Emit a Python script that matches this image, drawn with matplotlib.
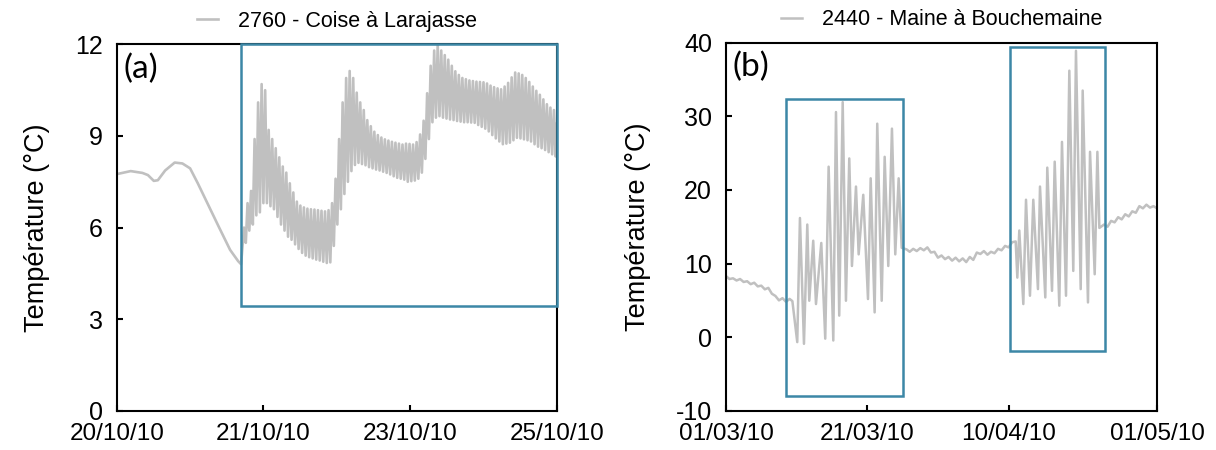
import numpy as np
import matplotlib.pyplot as plt
from matplotlib.patches import Rectangle

plt.rcParams["font.family"] = ["Liberation Sans", "DejaVu Sans"]
plt.rcParams["axes.unicode_minus"] = False

# ---- Panel (a): 2760 - Coise a Larajasse (time in hours) ----
a_smooth_t = [0, 3.8, 7.0, 8.5, 10.1, 11.2, 13.2, 15.8, 17.9, 20.0, 22.1,
              24.7, 27.8, 30.9, 33.1, 33.9]
a_smooth_v = [7.75, 7.85, 7.79, 7.72, 7.53, 7.55, 7.87, 8.13, 8.10, 7.94,
              7.45, 6.80, 6.03, 5.27, 4.90, 4.80]

# daily-cycle highs / lows, one pair per reading interval
a_cycle_start = 34.7
a_cycle_step = 0.96
a_high = [6.0, 6.8, 7.2, 8.9, 10.1, 10.7, 10.5, 9.2, 8.9, 8.6, 8.3, 8.0, 7.8,
          7.45, 7.15, 6.85, 6.72, 6.66, 6.62, 6.6, 6.59, 6.57, 6.55, 6.53,
          6.57, 6.8, 7.6, 8.9, 10.1, 10.9, 11.13, 10.9, 10.42, 10.1, 9.85,
          9.52, 9.32, 9.14, 9.03, 8.95, 8.89, 8.85, 8.81, 8.78, 8.75, 8.72,
          8.75, 8.74, 8.72, 8.8, 9.05, 9.5, 10.4, 11.3, 11.8, 12.0, 11.8,
          11.65, 11.5, 11.3, 11.12, 11.0, 10.9, 10.86, 10.82, 10.8, 10.78,
          10.77, 10.76, 10.72, 10.65, 10.6, 10.56, 10.53, 10.62, 10.74, 10.92,
          11.08, 11.05, 11.0, 10.9, 10.77, 10.62, 10.48, 10.35, 10.2, 10.04,
          9.93, 9.85]
a_low = [5.5, 5.9, 6.1, 6.4, 6.5, 6.8, 6.8, 6.7, 6.6, 6.35, 6.1, 5.9, 5.7,
         5.6, 5.45, 5.3, 5.17, 5.08, 5.03, 4.99, 4.95, 4.92, 4.88, 4.84, 4.86,
         5.4, 6.1, 6.6, 7.1, 7.5, 7.85, 8.05, 8.12, 8.08, 8.04, 7.98, 7.94,
         7.9, 7.87, 7.83, 7.79, 7.74, 7.68, 7.63, 7.6, 7.57, 7.5, 7.52, 7.54,
         7.6, 7.8, 8.25, 8.9, 9.45, 9.6, 9.65, 9.6, 9.57, 9.54, 9.52, 9.49,
         9.47, 9.45, 9.45, 9.44, 9.43, 9.36, 9.3, 9.24, 9.15, 9.03, 8.92,
         8.82, 8.73, 8.75, 8.78, 8.86, 8.94, 8.92, 8.89, 8.86, 8.82, 8.73,
         8.65, 8.6, 8.54, 8.47, 8.4, 8.33]

a_ticks = [0, 40, 80, 120]
a_ticklabels = ["20/10/10", "21/10/10", "23/10/10", "25/10/10"]
a_box = (33.9, 3.44)  # lower-left corner of highlighted window

# ---- Panel (b): 2440 - Maine a Bouchemaine (time in days) ----
b_t = [0, 0.5, 1.0, 1.5, 2.0, 2.5, 3.0, 3.5, 4.0, 4.5, 5.0, 5.5, 6.0, 6.5,
       7.0, 7.5, 8.0, 8.5, 9.0, 9.4,
       10.09, 10.47, 11.04, 11.51, 11.79, 12.35, 12.74, 13.49, 14.05, 14.53,
       15.19, 15.57, 16.03, 16.52, 16.98, 17.45, 17.83, 18.4, 18.78, 19.43,
       20.1, 20.48, 21.04, 21.41, 22.04, 22.46, 22.97, 23.49, 23.96, 24.44,
       24.87, 25.57,
       26.0, 26.5, 27.0, 27.5, 28.0, 28.5, 29.0, 29.5, 30.0, 30.5, 31.0,
       31.5, 32.0, 32.5, 33.0, 33.5, 34.0, 34.5, 35.0, 35.5, 36.0, 36.5,
       37.0, 37.5, 38.0, 38.5, 39.0, 39.5, 40.0, 40.5, 41.0,
       41.23, 41.51, 42.08, 42.46, 43.02, 43.49, 44.15, 44.44, 45.19, 45.47,
       46.14, 46.52, 47.17, 47.55, 48.12, 48.59, 49.15, 49.53, 50.2, 50.48,
       51.23, 51.52, 52.18, 52.56, 52.84,
       53.5, 54.0, 54.5, 55.0, 55.5, 56.0, 56.5, 57.0, 57.5, 58.0, 58.5,
       59.0, 59.5, 60.0, 60.5, 61.0]
b_v = [8.3, 7.9, 8.0, 7.7, 7.9, 7.5, 7.6, 7.2, 7.4, 6.9, 7.0, 6.5, 6.7, 5.9,
       5.6, 5.0, 5.3, 4.8, 5.2, 4.9,
       -0.67, 16.19, -0.9, 15.3, 4.95, 13.1, 4.5, 12.8, -0.2, 23.16,
       -0.45, 30.58, 2.93, 31.93, 4.95, 24.28, 9.67, 20.46, 11.25, 19.34,
       5.18, 21.58, 3.37, 29.0, 4.95, 24.5, 9.67, 28.33, 11.25, 21.58,
       12.14, 11.92,
       11.6, 12.0, 11.7, 12.1, 11.8, 12.2, 11.5, 11.6, 10.8, 11.1, 10.6,
       10.9, 10.4, 10.8, 10.3, 10.7, 10.2, 10.9, 10.5, 11.5, 11.3, 11.7,
       11.2, 11.6, 11.4, 12.0, 11.8, 12.4, 12.2, 12.9, 13.0,
       8.09, 14.49, 4.5, 18.67, 5.63, 18.67, 6.53, 20.46, 5.4, 23.03,
       6.3, 23.84, 4.28, 26.53, 5.63, 36.2, 9.0, 38.9, 6.53, 33.5,
       4.72, 25.18, 8.55, 25.18, 14.84,
       15.3, 15.0, 15.8, 15.6, 16.3, 16.0, 16.7, 16.4, 17.1, 16.9, 17.8,
       17.5, 18.0, 17.6, 17.8, 17.5]

b_ticks = [0, 20, 40, 61]
b_ticklabels = ["01/03/10", "21/03/10", "10/04/10", "01/05/10"]
b_boxes = [(8.5, -7.96, 25.1, 32.4), (40.2, -1.89, 53.6, 39.35)]

line_col = "#c0c0c0"
box_col = "#3c87a6"


def style_axis(ax):
    for s in ax.spines.values():
        s.set_linewidth(1.5)
        s.set_color("black")
    ax.tick_params(direction="in", length=4, width=1.5, labelsize=18)
    ax.tick_params(axis="x", pad=9, labelsize=17.5)
    ax.tick_params(axis="y", pad=10)
    ax.set_ylabel("Température (°C)", fontsize=19.5, labelpad=18)


def build_panel_a():
    k = np.arange(len(a_high))
    t_hi = a_cycle_start + a_cycle_step * k
    t_lo = t_hi + a_cycle_step / 2
    t = np.concatenate([a_smooth_t, np.column_stack([t_hi, t_lo]).ravel(), [120]])
    v = np.concatenate([a_smooth_v, np.column_stack([a_high, a_low]).ravel(), [9.4]])
    return t, v


fig = plt.figure(figsize=(12.16, 4.5), dpi=100)
ax1 = fig.add_axes([0.096, 0.0873, 0.362, 0.814])
ax2 = fig.add_axes([0.597, 0.0871, 0.3545, 0.818])

# Panel (a)
t_a, v_a = build_panel_a()
ax1.plot(t_a, v_a, color=line_col, lw=1.9, label="2760 - Coise à Larajasse")
ax1.set_xlim(0, 120)
ax1.set_ylim(0, 12)
ax1.set_yticks([0, 3, 6, 9, 12])
ax1.set_xticks(a_ticks)
ax1.set_xticklabels(a_ticklabels)
ax1.add_patch(Rectangle(a_box, 120 - a_box[0], 12 - a_box[1], fill=False,
                        ec=box_col, lw=1.8, clip_on=False, zorder=5))
ax1.text(0.015, 0.975, "(a)", transform=ax1.transAxes, fontsize=24,
         va="top", ha="left", family=["Lato", "DejaVu Sans"])
style_axis(ax1)

# Panel (b)
ax2.plot(b_t, b_v, color=line_col, lw=1.8, label="2440 - Maine à Bouchemaine")
ax2.set_xlim(0, 61)
ax2.set_ylim(-10, 40)
ax2.set_yticks([-10, 0, 10, 20, 30, 40])
ax2.set_xticks(b_ticks)
ax2.set_xticklabels(b_ticklabels)
for x0, y0, x1, y1 in b_boxes:
    ax2.add_patch(Rectangle((x0, y0), x1 - x0, y1 - y0, fill=False,
                            ec=box_col, lw=1.8, clip_on=False, zorder=5))
ax2.text(0.015, 0.975, "(b)", transform=ax2.transAxes, fontsize=24,
         va="top", ha="left", family=["Lato", "DejaVu Sans"])
style_axis(ax2)

for ax in (ax1, ax2):
    ax.legend(loc="lower center", bbox_to_anchor=(0.5, 1.005), frameon=False,
              fontsize=15.5, handlelength=1.0, handletextpad=0.9,
              borderaxespad=0.1)

fig.savefig("out.png", dpi=100)
